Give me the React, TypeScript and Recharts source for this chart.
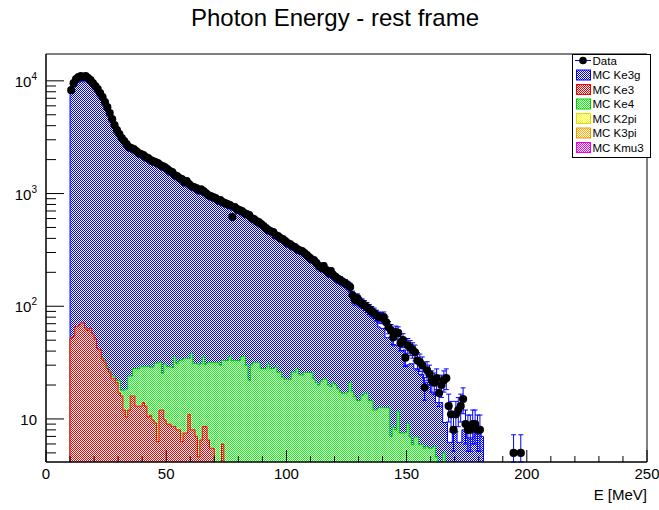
import {
  ComposedChart,
  Area,
  Scatter,
  XAxis,
  YAxis,
  ErrorBar,
  ReferenceArea,
} from "recharts";

const FONT = '"Liberation Sans", Arial, Helvetica, sans-serif';

// 1 MeV bins, the first one starts at 10 MeV
const FIRST_BIN = 10;

// measured photon energies (entries per bin, 10..180 MeV)
const dataCounts = [
  8260, 9540, 10350, 10780, 11010, 10780, 11010, 10560, 10140, 9540,
  8970, 8440, 7770, 7160, 6470, 5840, 5170, 4570, 4040, 3650,
  3370, 3100, 2920, 2740, 2580, 2530, 2480, 2380, 2280, 2240,
  2190, 2100, 2060, 1980, 1940, 1900, 1860, 1790, 1750, 1710,
  1650, 1580, 1550, 1460, 1430, 1370, 1340, 1260, 1290, 1210,
  1160, 1140, 1120, 1070, 1090, 1050, 1010, 967, 947, 929,
  910, 873, 873, 839, 822, 805, 788, 618, 757, 727,
  712, 698, 670, 656, 643, 605, 593, 569, 557, 535,
  514, 493, 473, 463, 454, 427, 419, 402, 394, 378,
  363, 356, 341, 334, 321, 314, 308, 296, 284, 272,
  261, 256, 241, 227, 218, 227, 209, 197, 205, 189,
  181, 174, 170, 164, 160, 154, 148, 125, 113, 118,
  109, 106, 102, 98, 94, 90, 87, 83, 80, 79,
  80, 72, 65, 61, 53, 59, 58, 47, 50, 35,
  45, 43, 41, 39, 33, 32, 30, 19, 27, 25,
  22, 21, 23, 17, 20, 22, 23, 13, 11, 8,
  11, 12, 13, 15, 9, 8, 8, 9, 9, 8, 8,
];

// two lone data entries far out in the tail
const tailBins = [194, 197];
const tailCounts = [5, 5];

// MC Ke3g (10..181 MeV)
const ke3gCounts = [
  7940, 8850, 9330, 9630, 9780, 9730, 9740, 9490, 9190, 8740,
  8250, 7760, 7160, 6570, 5920, 5350, 4730, 4180, 3700, 3340,
  3080, 2830, 2670, 2500, 2350, 2310, 2250, 2160, 2070, 2030,
  1980, 1900, 1870, 1790, 1750, 1720, 1680, 1620, 1580, 1540,
  1490, 1420, 1400, 1300, 1290, 1230, 1200, 1130, 1150, 1080,
  1030, 1020, 1000, 955, 970, 930, 900, 860, 840, 825,
  805, 770, 775, 740, 725, 705, 690, 680, 665, 635,
  620, 605, 580, 575, 570, 525, 515, 490, 480, 465,
  445, 425, 405, 400, 390, 365, 360, 345, 340, 325,
  310, 305, 290, 280, 265, 265, 260, 245, 235, 225,
  215, 215, 200, 190, 180, 177, 170, 160, 165, 155,
  145, 140, 140, 135, 130, 125, 115, 100, 90, 92,
  85, 80, 77, 73, 70, 68, 66, 62, 53, 51,
  51, 40, 40, 46, 36, 37, 33, 33, 33, 22,
  21, 24, 25, 21, 21, 19, 19, 15.5, 15.3, 15.5,
  11.5, 11.3, 9.4, 14, 14, 4.3, 9.3, 6.2, 6.2, 7.9,
  7.9, 6.2, 6.2, 8, 8, 6.8, 6.8, 6.8, 8, 8,
  8, 7,
];

// MC Ke3 (10..73 MeV)
const ke3Counts = [
  52, 54, 66, 67, 71, 71, 64, 61, 64, 57,
  51, 42, 41, 34, 32, 28, 26, 23, 23, 21,
  17, 16, 12, 10.4, 12, 16, 16, 13, 13, 13,
  14, 13, 10.4, 10.8, 9.8, 9.2, 6.3, 12, 12, 9.8,
  9, 9, 8.6, 8.6, 8, 8, 6.3, 7.5, 7.5, 11,
  8, 8, 7, 4.6, 6.5, 8.6, 8.6, 6.5, 5.5, 5.5,
  0, 0, 0, 6,
];

// MC Ke4 (10..165 MeV)
const ke4Counts = [
  0, 0, 0, 0, 0, 0, 0, 0, 0, 0,
  0, 0, 0, 1, 1, 1, 1, 1, 1, 1,
  5, 2, 6, 8, 12, 8, 12, 15, 15, 16,
  15, 16, 19, 18, 19, 22, 25, 20, 13.5, 21,
  20, 20, 20, 27, 23, 25, 27, 27, 27, 23.5,
  30, 23, 24, 26, 24.5, 27, 22, 25, 26, 26,
  31.5, 31.5, 30, 27, 33, 33, 35.8, 33, 33, 33,
  33, 35.8, 35.8, 30, 22, 30, 31.5, 31.5, 31.5, 28,
  28, 28, 31, 28, 28, 29, 26, 26, 23.5, 22.5,
  22.5, 22.5, 26, 26, 28, 24.5, 24.5, 25.8, 25.8, 25.8,
  25.8, 22.6, 21, 20, 21.6, 22.6, 22.6, 20, 19.3, 21,
  20, 18.5, 17.3, 16.9, 16.9, 17.3, 21, 17.3, 15.7, 14.6,
  14.6, 16.2, 16.9, 16.9, 14.6, 14.6, 12, 12, 12.6, 12.6,
  12.6, 12.6, 12.6, 7, 8.6, 8, 11.7, 7.5, 7.5, 7.5,
  9.2, 6.9, 5.9, 6.9, 6.9, 5.9, 5.9, 5.5, 5.7, 5.5,
  5.5, 5.7, 4.6, 0, 0, 5,
];

const xTicks = [
  0, 10, 20, 30, 40, 50, 60, 70, 80, 90, 100, 110, 120, 130, 140, 150, 160,
  170, 180, 190, 200, 210, 220, 230, 240, 250,
];
const yTicks = [
  5, 6, 7, 8, 9, 10, 20, 30, 40, 50, 60, 70, 80, 90, 100, 200, 300, 400, 500,
  600, 700, 800, 900, 1000, 2000, 3000, 4000, 5000, 6000, 7000, 8000, 9000,
  10000,
];

const legendNames = ["Data", "MC Ke3g", "MC Ke3", "MC Ke4", "MC K2pi", "MC K3pi", "MC Kmu3"];
const legendColors = ["#0000ff", "#0000ff", "#ff0000", "#00ff00", "#ffff00", "#ffaa00", "#ff00ff"];
const legendEdges = ["#0000ff", "#0000ff", "#ff0000", "#00cc00", "#dddd00", "#ee9900", "#ee00ee"];

const Y_MIN = 4.15;
const Y_MAX = 17300;
const EMPTY = 1; // empty bins sit under the frame and get clipped away

const valueAt = (arr: number[], e: number) => {
  const i = e - FIRST_BIN;
  return i >= 0 && i < arr.length ? arr[i] : 0;
};

// stacked histogram tops (Ke3 at the bottom, then Ke4, then Ke3g)
const histRows: { x: number; ke3: number; ke4: number; ke3g: number }[] = [];
for (let e = FIRST_BIN - 1; e <= 200; e++) {
  const s1 = valueAt(ke3Counts, e);
  const s2 = s1 + valueAt(ke4Counts, e);
  const s3 = s2 + valueAt(ke3gCounts, e);
  histRows.push({
    x: e,
    ke3: s1 > 0 ? s1 : EMPTY,
    ke4: s2 > 0 ? s2 : EMPTY,
    ke3g: s3 > 0 ? s3 : EMPTY,
  });
}

const dataPoints = dataCounts
  .map((n, i) => ({ x: FIRST_BIN + i + 0.5, y: n }))
  .concat(tailBins.map((b, i) => ({ x: b + 0.5, y: tailCounts[i] })))
  .filter((p) => p.y > 0)
  .map((p) => {
    const s = Math.sqrt(p.y);
    return { ...p, err: [Math.min(s, p.y - Y_MIN), s] };
  });

const Checker = ({ id, color }: { id: string; color: string }) => (
  <pattern id={id} width={2} height={2} patternUnits="userSpaceOnUse">
    <rect width={2} height={2} fill="#fff" />
    <rect width={1} height={1} fill={color} />
    <rect x={1} y={1} width={1} height={1} fill={color} />
  </pattern>
);

const XTick = (props: any) => {
  const { x, y, payload } = props;
  const major = payload.value % 50 === 0;
  return (
    <g>
      <line x1={x} x2={x} y1={y} y2={y - (major ? 12 : 6)} stroke="#000" />
      {major && (
        <text x={x} y={y + 17} textAnchor="middle" fontSize={15} fontFamily={FONT} fill="#000">
          {payload.value}
        </text>
      )}
    </g>
  );
};

const YTick = (props: any) => {
  const { x, y, payload } = props;
  const v = payload.value;
  const p = Math.round(Math.log10(v));
  const major = Math.abs(v - 10 ** p) < 1e-9;
  return (
    <g>
      <line x1={x} x2={x + (major ? 18 : 10)} y1={y} y2={y} stroke="#000" />
      {major && (
        <text x={37} y={y + 6} textAnchor="end" fontSize={15} fontFamily={FONT} fill="#000">
          10
          {p > 1 && (
            <tspan dy={-7} fontSize={10}>
              {p}
            </tspan>
          )}
        </text>
      )}
    </g>
  );
};

const LegendBox = () => (
  <svg
    width={80}
    height={105}
    style={{ position: "absolute", left: 572, top: 54 }}
  >
    <defs>
      {legendColors.map((c, i) => (
        <Checker key={i} id={`lg${i}`} color={c} />
      ))}
    </defs>
    <rect x={0.5} y={0.5} width={78} height={103} fill="#fff" stroke="#000" />
    {legendNames.map((name, i) => {
      const cy = 6.5 + i * 14.5;
      return (
        <g key={name}>
          {i === 0 ? (
            <g>
              <line x1={3} x2={19} y1={cy} y2={cy} stroke="#0000ff" />
              <circle cx={11} cy={cy} r={3.8} fill="#000" />
            </g>
          ) : (
            <rect
              x={4.5}
              y={cy - 5}
              width={14}
              height={10}
              fill={`url(#lg${i}) ${legendColors[i]}`}
              stroke={legendEdges[i]}
            />
          )}
          <text x={20.5} y={cy + 4} fontSize={11.5} fontFamily={FONT} fill="#000">
            {name}
          </text>
        </g>
      );
    })}
  </svg>
);

export default function App() {
  return (
    <div
      style={{
        position: "absolute",
        left: 0,
        top: 0,
        width: 659,
        height: 510,
        background: "#fff",
        fontFamily: FONT,
      }}
    >
      <div
        style={{
          position: "absolute",
          top: 6,
          left: 0,
          width: 670,
          textAlign: "center",
          fontSize: 24,
          lineHeight: "24px",
        }}
      >
        Photon Energy - rest frame
      </div>
      <ComposedChart
        width={659}
        height={510}
        data={histRows}
        margin={{ top: 54, right: 12, bottom: 0, left: 0 }}
      >
        <defs>
          <Checker id="pKe3g" color="#0000ff" />
          <Checker id="pKe4" color="#00ff00" />
          <Checker id="pKe3" color="#ff0000" />
        </defs>
        <Area
          dataKey="ke3g"
          type="stepAfter"
          stroke="#0000ff"
          strokeWidth={1}
          fill="url(#pKe3g) #8080ff"
          fillOpacity={1}
          baseValue={Y_MIN}
          dot={false}
          activeDot={false}
          isAnimationActive={false}
        />
        <Area
          dataKey="ke4"
          type="stepAfter"
          stroke="#00cc00"
          strokeWidth={1}
          fill="url(#pKe4) #80ff80"
          fillOpacity={1}
          baseValue={Y_MIN}
          dot={false}
          activeDot={false}
          isAnimationActive={false}
        />
        <Area
          dataKey="ke3"
          type="stepAfter"
          stroke="#ff0000"
          strokeWidth={1}
          fill="url(#pKe3) #ff8080"
          fillOpacity={1}
          baseValue={Y_MIN}
          dot={false}
          activeDot={false}
          isAnimationActive={false}
        />
        <XAxis
          dataKey="x"
          type="number"
          domain={[0, 250]}
          allowDataOverflow
          ticks={xTicks}
          interval={0}
          height={48}
          tickSize={0}
          tickMargin={0}
          tickLine={false}
          axisLine={{ stroke: "#000" }}
          tick={<XTick />}
        />
        <YAxis
          type="number"
          scale="log"
          domain={[Y_MIN, Y_MAX]}
          allowDataOverflow
          ticks={yTicks}
          interval={0}
          width={46}
          tickSize={0}
          tickMargin={0}
          tickLine={false}
          axisLine={{ stroke: "#000" }}
          tick={<YTick />}
        />
        <Scatter
          data={dataPoints}
          dataKey="y"
          fill="#000"
          isAnimationActive={false}
          shape={(p: any) => <circle cx={p.cx} cy={p.cy} r={4.1} fill="#000" />}
        >
          <ErrorBar dataKey="err" direction="y" width={2.5} stroke="#0000ff" strokeWidth={1} />
        </Scatter>
        <ReferenceArea
          x1={0}
          x2={250}
          y1={Y_MIN}
          y2={Y_MAX}
          fill="none"
          stroke="#000"
          strokeWidth={1}
        />
      </ComposedChart>
      <div
        style={{
          position: "absolute",
          top: 487,
          right: 12,
          fontSize: 15,
          lineHeight: "15px",
        }}
      >
        E [MeV]
      </div>
      <LegendBox />
    </div>
  );
}
